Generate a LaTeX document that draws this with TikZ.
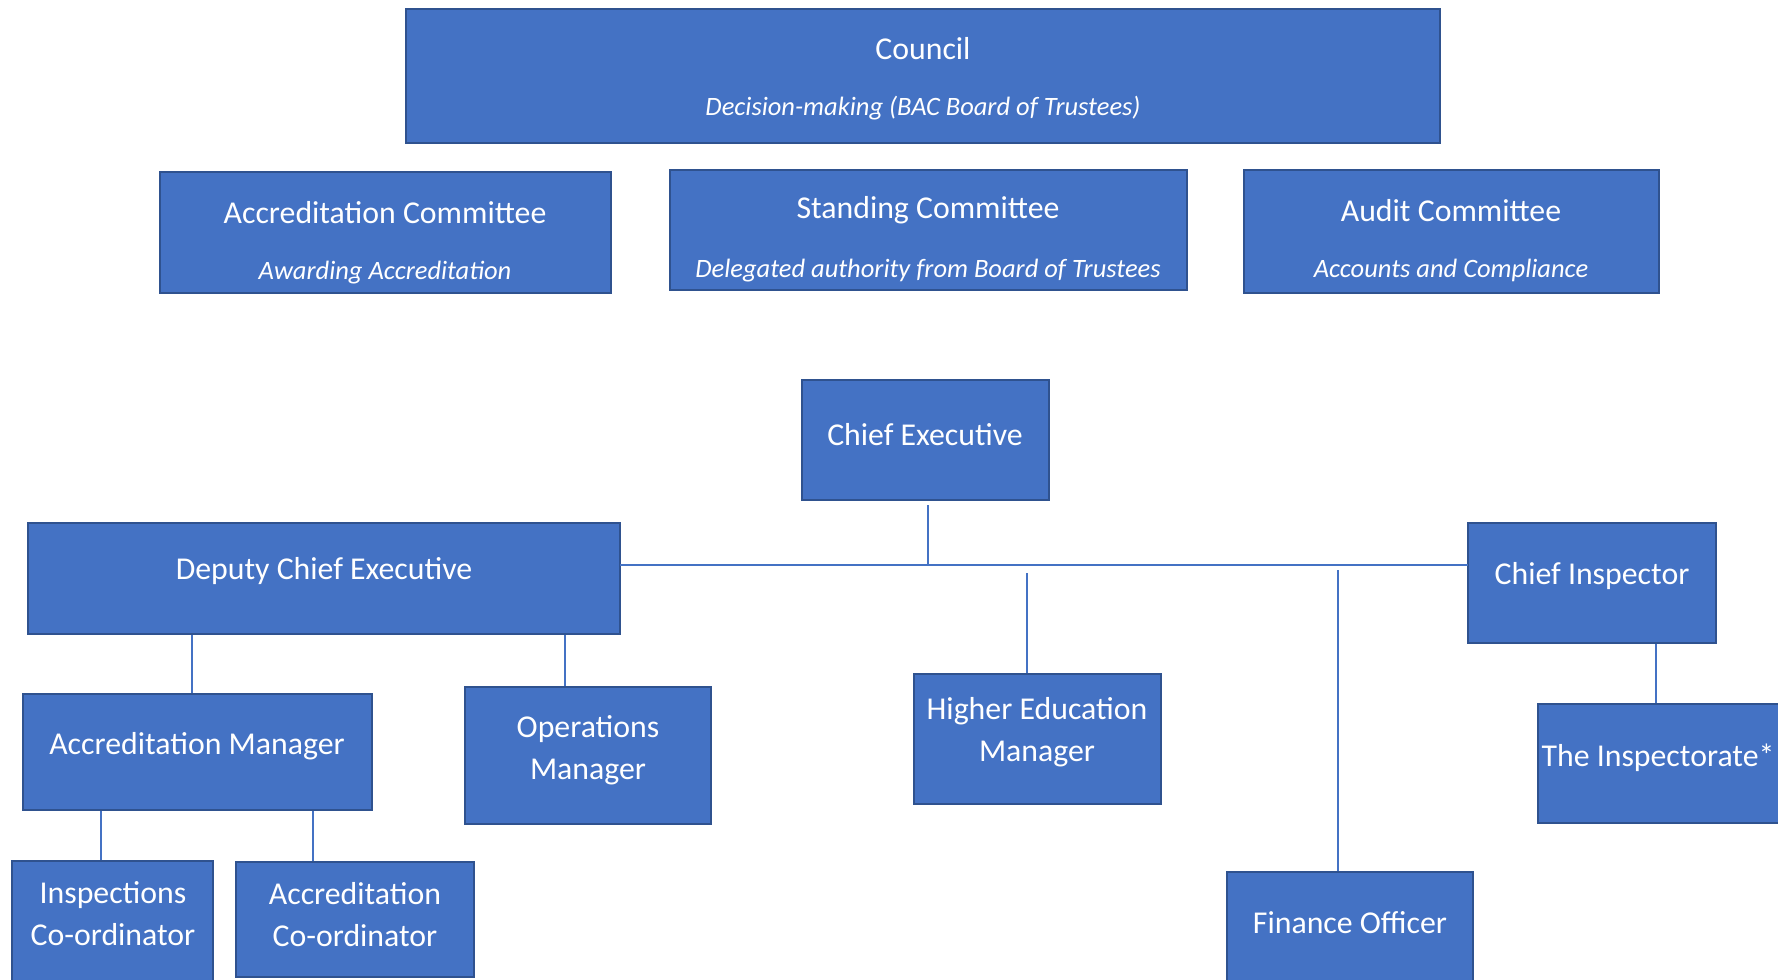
\documentclass[tikz,border=0pt]{standalone}
\usepackage{fontspec}
\setmainfont{Carlito}
\usetikzlibrary{fit,calc}
\definecolor{boxfill}{HTML}{4472C4}
\definecolor{boxborder}{HTML}{2F528F}
\definecolor{connline}{HTML}{4472C4}
\tikzset{
  orgbox/.style={draw=boxborder, fill=boxfill, line width=2.3pt, inner sep=0pt, rectangle},
  ttl/.style={text=white, font=\fontsize{31.8}{42}\selectfont, align=center, inner sep=0pt},
  sub/.style={text=white, font=\fontsize{26.5}{30}\selectfont\itshape, align=center, inner sep=0pt},
  conn/.style={draw=connline, line width=1.3pt},
}
\begin{document}
\begin{tikzpicture}[x=1pt,y=-1pt]
\useasboundingbox (0,0) rectangle (1778,980);
\clip (0,0) rectangle (1778,980);
% boxes
\node[orgbox, fit={(406,9) (1440,143)}] (council) {};
\node[orgbox, fit={(160,172) (611,293)}] (acc) {};
\node[orgbox, fit={(670,170) (1187,290)}] (stand) {};
\node[orgbox, fit={(1244,170) (1659,293)}] (audit) {};
\node[orgbox, fit={(802,380) (1049,500)}] (ce) {};
\node[orgbox, fit={(28,523) (620,634)}] (dce) {};
\node[orgbox, fit={(1468,523) (1716,643)}] (ci) {};
\node[orgbox, fit={(23,694) (372,810)}] (am) {};
\node[orgbox, fit={(465,687) (711,824)}] (om) {};
\node[orgbox, fit={(914,674) (1161,804)}] (hem) {};
\node[orgbox, fit={(1538,704) (1795,823)}] (insp) {};
\node[orgbox, fit={(1227,872) (1473,1000)}] (fo) {};
\node[orgbox, fit={(12,861) (213,1000)}] (ic) {};
\node[orgbox, fit={(236,862) (474,977)}] (ac) {};
% texts
\node[ttl] (council-t) at (923,48.5) {Council};
\node[sub] (council-s) at (923,108.5) {Decision-making (BAC Board of Trustees)};
\node[ttl] (acc-t) at (385,212.5) {Accreditation Committee};
\node[sub] (acc-s) at (385,272.5) {Awarding Accreditation};
\node[ttl] (stand-t) at (928,210.5) {Standing Committee};
\node[sub] (stand-s) at (928,270.5) {Delegated authority from Board of Trustees};
\node[ttl] (audit-t) at (1451,210.5) {Audit Committee};
\node[sub] (audit-s) at (1451,270.5) {Accounts and Compliance};
\node[ttl] (ce-t) at (925,434.5) {Chief Executive};
\node[ttl] (dce-t) at (324,571.5) {Deputy Chief Executive};
\node[ttl] (ci-t) at (1592,576.5) {Chief Inspector};
\node[ttl] (am-t) at (197,746.5) {Accreditation Manager};
\node[ttl] (om-t) at (588,750.5) {Operations\\Manager};
\node[ttl] (hem-t) at (1037,732.5) {Higher Education\\Manager};
\node[ttl] (insp-t) at (1658,757.5) {The Inspectorate*};
\node[ttl] (fo-t) at (1350,922.5) {Finance Officer};
\node[ttl] (ic-t) at (113,913.5) {Inspections\\Co-ordinator};
\node[ttl] (ac-t) at (355,914.5) {Accreditation\\Co-ordinator};
% connector helpers
\coordinate (busL) at (620,565);
\coordinate (busR) at (1468,565);
\coordinate (ceX) at (928,505);
\coordinate (hemTop) at (1027,573);
\coordinate (foTop) at (1338,570);
\coordinate (xam) at (192,0);
\coordinate (xom) at (565,0);
\coordinate (xic) at (101,0);
\coordinate (xac) at (313,0);
\coordinate (xin) at (1656,0);
% connectors
\draw[conn] (busL) -- (busR);
\draw[conn] (ceX) -- (ceX |- busL);
\draw[conn] (hemTop) -- (hemTop |- hem.north);
\draw[conn] (foTop) -- (foTop |- fo.north);
\draw[conn] (xam |- dce.south) -- (xam |- am.north);
\draw[conn] (xom |- dce.south) -- (xom |- om.north);
\draw[conn] (xic |- am.south) -- (xic |- ic.north);
\draw[conn] (xac |- am.south) -- (xac |- ac.north);
\draw[conn] (xin |- ci.south) -- (xin |- insp.north);
\end{tikzpicture}
\end{document}
